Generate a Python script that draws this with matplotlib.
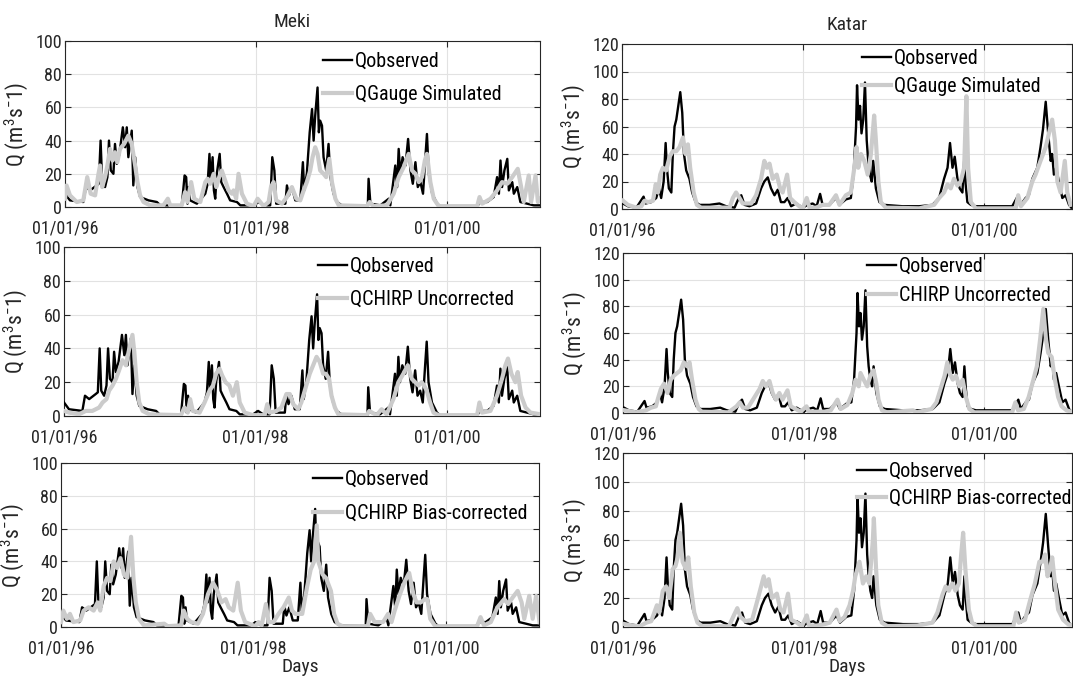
import matplotlib
matplotlib.use("Agg")
import matplotlib.pyplot as plt
from matplotlib import font_manager
from matplotlib.lines import Line2D

available = {f.name for f in font_manager.fontManager.ttflist}
narrow = [f for f in ["Liberation Sans Narrow", "Arial Narrow", "Roboto Condensed",
                      "DejaVu Sans Condensed", "Open Sans Condensed"] if f in available]
if narrow:
    family = [narrow[0], "DejaVu Sans"]
    FS_TICK, FS_LEG, FS_YLAB, FS_LAB = 13, 14.5, 15.5, 14
else:
    family = [f for f in ["Liberation Sans", "DejaVu Sans"] if f in available]
    FS_TICK, FS_LEG, FS_YLAB, FS_LAB = 10.5, 12, 12.5, 11
plt.rcParams["font.family"] = family
plt.rcParams["mathtext.default"] = "regular"

# ---------------- data (days since 01/01/1996, discharge m3/s) ----------------
meki_obs_day = [0, 19, 70, 80, 96, 121, 129, 136, 142, 153, 162, 168, 175, 185, 191, 198, 208, 221, 230,
                236, 242, 255, 261, 268, 277, 287, 319, 351, 364, 389, 446, 457, 463, 468, 473, 478, 504,
                536, 545, 552, 557, 564, 569, 574, 580, 591, 597, 606, 619, 631, 657, 670, 721, 740, 759,
                784, 792, 800, 807, 842, 848, 856, 867, 880, 899, 909, 914, 924, 935, 944, 950, 956, 965,
                970, 975, 982, 988, 998, 1007, 1014, 1026, 1039, 1058, 1157, 1160, 1167, 1205, 1237, 1243,
                1262, 1269, 1275, 1281, 1290, 1301, 1311, 1320, 1329, 1339, 1348, 1358, 1368, 1377, 1383,
                1390, 1403, 1422, 1434, 1575, 1587, 1613, 1638, 1651, 1658, 1664, 1670, 1679, 1690, 1696,
                1709, 1715, 1728, 1740, 1766, 1791, 1817]
meki_obs_q = [8, 4, 3, 12, 10, 13, 14, 40, 15, 12, 18, 40, 22, 20, 38, 26, 32, 48, 36,
              48, 30, 46, 13, 30, 12, 6, 4, 3, 1, 1, 0.5, 19, 18, 2, 12, 4, 2,
              8, 14, 32, 15, 30, 10, 5, 20, 32, 15, 12, 8, 4, 3, 1, 1, 3, 1,
              1, 30, 22, 2, 2, 13, 7, 12, 4, 4, 27, 10, 20, 45, 59, 40, 55, 72,
              45, 52, 49, 30, 22, 38, 18, 8, 3, 1, 0.5, 17, 2, 1, 5, 1,
              25, 12, 35, 20, 30, 25, 41, 22, 14, 27, 12, 15, 8, 30, 44,
              20, 8, 2, 0.5, 0.5, 3, 3, 6, 18, 8, 28, 12, 22, 29, 10,
              15, 8, 12, 3, 2, 1, 1]

meki_gauge_day = [0, 6, 19, 45, 70, 85, 98, 115, 128, 134, 142, 153, 162, 172, 182, 191, 200, 210, 226,
                  242, 255, 268, 277, 287, 300, 325, 376, 393, 402, 446, 459, 468, 482, 494, 517, 536, 545,
                  555, 568, 578, 587, 599, 612, 625, 638, 644, 654, 663, 676, 695, 721, 736, 759, 778, 787,
                  797, 807, 829, 848, 867, 884, 899, 912, 924, 937, 946, 956, 965, 975, 988, 998, 1010,
                  1020, 1033, 1046, 1154, 1164, 1179, 1230, 1256, 1275, 1294, 1313, 1326, 1339, 1352,
                  1364, 1375, 1383, 1396, 1409, 1428, 1575, 1584, 1594, 1626, 1651, 1670, 1690, 1709,
                  1730, 1743, 1753, 1772, 1781, 1798, 1807, 1817]
meki_gauge_q = [5, 13, 7, 3, 4, 18, 8, 7, 20, 25, 12, 18, 25, 35, 28, 33, 27, 35, 38,
                43, 38, 25, 15, 7, 3, 1, 1, 5, 1, 1, 9, 3, 15, 5, 3, 15, 17,
                14, 20, 12, 17, 22, 16, 10, 8, 10, 5, 20, 8, 2, 0.5, 5, 0.5, 3, 12,
                15, 4, 2, 6, 12, 5, 4, 10, 15, 22, 30, 36, 32, 22, 20, 18, 29,
                15, 5, 1, 0.5, 3, 0.5, 1, 8, 18, 24, 32, 22, 20, 15,
                18, 28, 32, 15, 5, 0.5, 0.5, 6, 2, 5, 10, 15, 14, 18,
                23, 12, 3, 19, 3, 19, 3, 5]

meki_unc_day = [0, 19, 57, 83, 108, 134, 147, 162, 172, 185, 198, 210, 223, 236, 249, 261, 268, 277,
                287, 300, 325, 446, 459, 472, 481, 491, 517, 536, 555, 568, 580, 593, 603, 616, 631,
                644, 659, 670, 689, 721, 765, 775, 784, 810, 829, 848, 861, 874, 893, 905, 918, 937,
                950, 963, 975, 988, 998, 1011, 1020, 1033, 1046, 1154, 1164, 1192, 1211, 1230, 1256,
                1275, 1294, 1311, 1326, 1339, 1352, 1364, 1373, 1383, 1396, 1409, 1428, 1575, 1584,
                1594, 1626, 1651, 1670, 1683, 1693, 1706, 1721, 1730, 1743, 1760, 1779, 1817]
meki_unc_q = [3, 2, 1, 3, 3, 5, 8, 10, 15, 18, 22, 27, 33, 30, 40, 48, 38, 20,
              8, 3, 1, 0.5, 5, 2, 10, 3, 2, 8, 15, 18, 25, 28, 24, 20, 18,
              12, 20, 8, 2, 0.5, 0.5, 7, 2, 3, 5, 13, 13, 7, 4, 8, 15, 25,
              30, 35, 32, 25, 25, 22, 12, 5, 1, 0.5, 3, 0.5, 4, 1, 10,
              20, 25, 30, 22, 20, 18, 20, 18, 15, 8, 2, 0.5, 0.5, 8,
              2, 3, 12, 22, 30, 34, 25, 20, 26, 12, 5, 2, 1]

meki_bc_day = [0, 9, 22, 34, 47, 73, 86, 105, 124, 139, 149, 162, 175, 188, 200, 213, 226, 239, 252,
               266, 275, 284, 296, 315, 392, 405, 456, 466, 479, 494, 520, 539, 558, 577, 594, 609,
               625, 637, 654, 671, 683, 699, 737, 750, 762, 778, 788, 807, 826, 845, 865, 877, 890,
               916, 935, 948, 961, 971, 977, 993, 1006, 1025, 1037, 1050, 1069, 1165, 1174, 1191,
               1223, 1242, 1255, 1267, 1287, 1306, 1322, 1338, 1350, 1366, 1382, 1391, 1402, 1421,
               1580, 1593, 1606, 1632, 1657, 1683, 1698, 1715, 1734, 1749, 1759, 1778, 1791, 1804,
               1817]
meki_bc_q = [3, 10, 5, 8, 3, 4, 10, 12, 10, 15, 10, 25, 30, 28, 40, 36, 42, 32, 30,
             55, 30, 15, 5, 1, 2, 0.5, 1, 10, 5, 3, 2, 8, 20, 27, 22, 15,
             17, 12, 10, 27, 10, 3, 0.5, 3, 1, 14, 3, 3, 8, 12, 18, 10, 8,
             8, 25, 35, 40, 62, 40, 32, 30, 22, 8, 2, 0.5, 0.5, 8, 3,
             3, 8, 3, 10, 20, 28, 33, 20, 15, 15, 17, 17, 5, 0.5,
             0.5, 6, 1, 3, 12, 17, 14, 18, 22, 15, 5, 19, 5, 19,
             3]

katar_obs_day = [4, 24, 58, 87, 95, 118, 138, 149, 158, 168, 176, 181, 189, 199, 205, 212, 219, 227, 235,
                 243, 250, 259, 272, 283, 297, 313, 353, 393, 420, 454, 471, 481, 494, 514, 541, 561,
                 574, 588, 601, 615, 628, 641, 655, 668, 682, 702, 729, 749, 769, 785, 799, 809, 836,
                 863, 877, 903, 923, 934, 944, 948, 954, 960, 966, 973, 980, 987, 993, 1000, 1007, 1013,
                 1024, 1038, 1058, 1132, 1199, 1252, 1279, 1299, 1313, 1323, 1333, 1342, 1353, 1362,
                 1373, 1380, 1386, 1393, 1407, 1427, 1467, 1574, 1598, 1608, 1628, 1641, 1655, 1675,
                 1688, 1698, 1709, 1719, 1729, 1735, 1742, 1751, 1762, 1776, 1789, 1803, 1812]
katar_obs_q = [4, 2, 1, 9, 4, 5, 8, 15, 8, 20, 48, 30, 15, 12, 40, 60, 65, 75, 85,
               70, 40, 28, 22, 12, 5, 3, 3, 4, 2, 1, 8, 10, 3, 2, 4, 15,
               20, 23, 15, 10, 14, 5, 5, 8, 2, 4, 1, 3, 4, 2, 11, 3, 3,
               8, 3, 7, 8, 25, 60, 90, 65, 75, 55, 65, 92, 50, 35, 25, 20, 35,
               15, 5, 3, 2, 2, 3, 8, 22, 30, 48, 30, 38, 22, 15,
               12, 35, 18, 5, 3, 2, 2, 2, 10, 3, 8, 10, 22, 30,
               45, 58, 78, 55, 35, 40, 25, 30, 20, 8, 10, 3, 1]

katar_gauge_day = [4, 24, 58, 78, 91, 105, 125, 136, 145, 154, 165, 178, 192, 205, 219, 232, 246, 256,
                   266, 275, 289, 302, 319, 434, 447, 460, 474, 487, 521, 541, 561, 574, 585, 595, 608,
                   624, 638, 648, 666, 678, 695, 715, 729, 745, 756, 783, 809, 836, 863, 877, 903, 923,
                   937, 946, 953, 964, 977, 991, 1004, 1011, 1017, 1024, 1034, 1044, 1064, 1199, 1259,
                   1279, 1299, 1313, 1326, 1339, 1353, 1366, 1380, 1389, 1396, 1407, 1427, 1588, 1598,
                   1609, 1635, 1655, 1668, 1688, 1709, 1722, 1735, 1746, 1756, 1769, 1786, 1796, 1809]
katar_gauge_q = [6, 3, 1, 2, 6, 5, 6, 18, 12, 25, 30, 28, 38, 42, 42, 45, 52, 40,
                 47, 30, 12, 3, 1, 1, 8, 12, 8, 4, 4, 10, 22, 35, 30, 33, 22,
                 25, 15, 12, 25, 8, 5, 2, 0.5, 8, 1, 1, 3, 3, 10, 3, 10, 12,
                 30, 45, 30, 40, 35, 25, 40, 55, 68, 50, 20, 5, 1, 0.5, 3,
                 8, 12, 18, 15, 22, 17, 20, 30, 82, 30, 5, 0.5, 0.5, 10,
                 2, 8, 20, 25, 35, 45, 55, 65, 50, 20, 12, 35, 12, 3]

katar_unc_day = [7, 53, 93, 113, 133, 140, 153, 166, 180, 193, 206, 219, 233, 246, 259, 269, 279, 293,
                 306, 319, 426, 459, 472, 485, 505, 532, 552, 565, 578, 592, 605, 618, 632, 645, 665,
                 678, 698, 718, 742, 751, 778, 814, 840, 867, 880, 907, 927, 940, 953, 960, 973, 987,
                 1000, 1013, 1024, 1033, 1047, 1067, 1173, 1187, 1247, 1267, 1287, 1300, 1311, 1320,
                 1333, 1346, 1360, 1373, 1386, 1400, 1420, 1573, 1586, 1597, 1620, 1640, 1659, 1673,
                 1686, 1699, 1710, 1719, 1733, 1746, 1759, 1773, 1793, 1812]
katar_unc_q = [2, 0.5, 2, 4, 5, 10, 18, 22, 15, 25, 28, 30, 32, 38, 35, 38, 25, 10,
               3, 1, 0.5, 5, 8, 4, 4, 12, 18, 24, 20, 24, 15, 10, 15, 10, 17,
               5, 3, 1, 5, 1, 1, 1, 2, 10, 3, 6, 15, 25, 20, 30, 25, 20,
               28, 32, 22, 10, 2, 0.5, 2, 0.5, 3, 8, 20, 28, 38, 30,
               25, 28, 20, 25, 12, 3, 0.5, 0.5, 8, 2, 3, 12, 25, 35,
               55, 78, 55, 45, 42, 25, 12, 5, 2, 1]

katar_bc_day = [7, 40, 67, 94, 114, 137, 147, 161, 174, 187, 201, 212, 221, 230, 241, 254, 264, 274,
                288, 301, 321, 428, 448, 462, 475, 495, 522, 546, 569, 578, 589, 602, 622, 636, 649,
                667, 680, 703, 723, 743, 752, 783, 816, 836, 863, 876, 896, 916, 930, 939, 956, 970,
                983, 996, 1010, 1014, 1023, 1032, 1046, 1070, 1190, 1251, 1271, 1291, 1304, 1317,
                1331, 1344, 1358, 1367, 1375, 1384, 1398, 1411, 1431, 1578, 1589, 1600, 1625, 1645,
                1665, 1683, 1696, 1706, 1716, 1726, 1735, 1746, 1759, 1779, 1799, 1812]
katar_bc_q = [2, 1, 0.5, 3, 4, 15, 10, 25, 28, 20, 40, 42, 48, 65, 45, 40, 48, 28,
              10, 3, 0.5, 0.5, 8, 13, 7, 4, 5, 20, 35, 28, 33, 20, 23, 12, 10,
              23, 5, 3, 0.5, 8, 1, 1, 2, 3, 12, 4, 7, 15, 25, 35, 45, 30,
              35, 30, 60, 75, 40, 15, 3, 0.5, 1, 3, 10, 22, 28, 25,
              30, 25, 30, 50, 65, 40, 12, 3, 0.5, 0.5, 10, 3, 5, 18,
              30, 45, 45, 50, 35, 40, 48, 30, 12, 5, 2, 1]

date_ticks = [0, 731, 1461]
date_labels = ["01/01/96", "01/01/98", "01/01/00"]
meki_yticks = [0, 20, 40, 60, 80, 100]
katar_yticks = [0, 20, 40, 60, 80, 100, 120]

sim_labels = {
    ("Meki", 0): "QGauge Simulated",
    ("Meki", 1): "QCHIRP Uncorrected",
    ("Meki", 2): "QCHIRP Bias-corrected",
    ("Katar", 0): "QGauge Simulated",
    ("Katar", 1): "CHIRP Uncorrected",
    ("Katar", 2): "QCHIRP Bias-corrected",
}

# ---------------- figure ----------------
W, H = 1073, 680
fig = plt.figure(figsize=(W / 100, H / 100), dpi=100)

def px_axes(x0, y0, x1, y1):
    return fig.add_axes([x0 / W, 1 - y1 / H, (x1 - x0) / W, (y1 - y0) / H])

# (x0, y0, x1, y1) in pixels
boxes = {
    ("Meki", 0): (65, 41, 540, 207),
    ("Meki", 1): (64, 247, 540, 416),
    ("Meki", 2): (61, 463, 539, 627),
    ("Katar", 0): (622, 44, 1072, 209),
    ("Katar", 1): (623, 253, 1072, 413),
    ("Katar", 2): (623, 453, 1072, 627),
}
# legend anchor (pixel x of handle start, pixel y of first row centre, row pitch)
legend_pos = {
    ("Meki", 0): (323, 62, 34),
    ("Meki", 1): (318, 267, 34),
    ("Meki", 2): (313, 480, 35),
    ("Katar", 0): (862, 59, 29),
    ("Katar", 1): (867, 267, 30),
    ("Katar", 2): (857, 472, 28),
}

series = {
    "Meki": (meki_obs_day, meki_obs_q,
             [(meki_gauge_day, meki_gauge_q), (meki_unc_day, meki_unc_q), (meki_bc_day, meki_bc_q)],
             meki_yticks),
    "Katar": (katar_obs_day, katar_obs_q,
              [(katar_gauge_day, katar_gauge_q), (katar_unc_day, katar_unc_q), (katar_bc_day, katar_bc_q)],
              katar_yticks),
}

BLACK = "#000000"
GRAY = "#cbcbcb"
INK = "#262626"

for station, (od, oq, sims, yt) in series.items():
    for i in range(3):
        ax = px_axes(*boxes[(station, i)])
        sd, sq = sims[i]
        ax.plot(od, oq, color=BLACK, lw=1.7, zorder=3)
        ax.plot(sd, sq, color=GRAY, lw=3.0, zorder=4)
        ax.set_xlim(0, 1815)
        ax.set_ylim(yt[0], yt[-1])
        ax.set_yticks(yt)
        ax.set_xticks(date_ticks)
        ax.set_xticklabels(date_labels)
        ax.grid(True, color="#e2e2e2", lw=0.8, zorder=0)
        ax.set_axisbelow(True)
        ax.tick_params(direction="in", top=True, right=True, labelsize=FS_TICK,
                       length=4, width=0.8, colors=INK, labelcolor=INK, pad=2)
        ax.tick_params(axis="x", pad=9)
        for s in ax.spines.values():
            s.set_color(INK)
            s.set_linewidth(0.8)
        ax.set_ylabel("Q (m$^3$s$^{-}$1)", fontsize=FS_YLAB, color=INK, labelpad=4)
        if i == 0:
            ax.set_title(station, fontsize=FS_LAB, color=INK, pad=10,
                         x=0.478 if station == "Meki" else 0.5)
        if i == 2:
            ax.set_xlabel("Days", fontsize=FS_LAB, color=INK, labelpad=0)

        hx, hy, pitch = legend_pos[(station, i)]
        handles = [Line2D([], [], color=BLACK, lw=1.7), Line2D([], [], color=GRAY, lw=3.0)]
        fs_px = FS_LEG * 100 / 72
        leg = ax.legend(handles, ["Qobserved", sim_labels[(station, i)]],
                        loc="upper left",
                        bbox_to_anchor=(hx / W, 1 - (hy - 0.5 * fs_px) / H),
                        bbox_transform=fig.transFigure,
                        frameon=False, fontsize=FS_LEG, borderpad=0, borderaxespad=0,
                        handlelength=2.2 if not narrow else 1.45, handletextpad=0.15,
                        labelspacing=(pitch - fs_px) / fs_px)
        for t in leg.get_texts():
            t.set_color("#000000")

fig.savefig("out.png", dpi=100, facecolor="white")
